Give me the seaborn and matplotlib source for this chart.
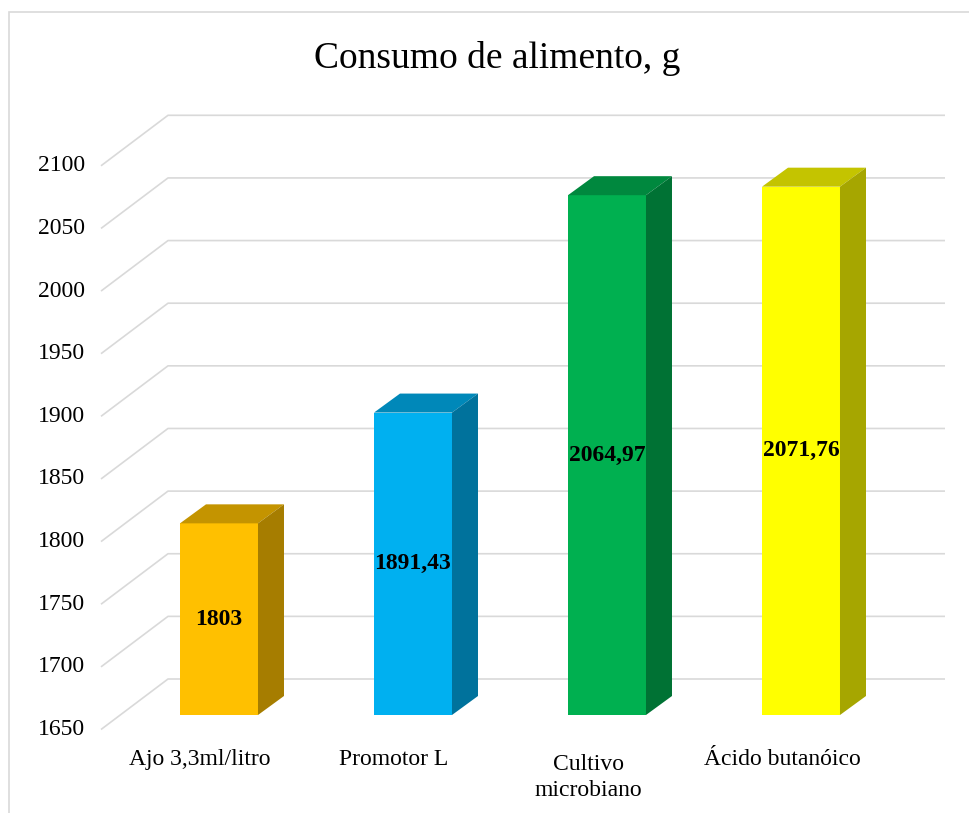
import numpy as np
import pandas as pd
import seaborn as sns
import matplotlib
matplotlib.use("Agg")
import matplotlib.pyplot as plt
from matplotlib.transforms import IdentityTransform
from matplotlib.patches import Polygon, Rectangle
from matplotlib.colors import to_rgb

# ---- data ----
categories = ["Ajo 3,3ml/litro", "Promotor L", "Cultivo\nmicrobiano", "Ácido butanóico"]
values = [1803, 1891.43, 2064.97, 2071.76]
value_labels = ["1803", "1891,43", "2064,97", "2071,76"]
colors = ["#FFC000", "#00B0F0", "#00B050", "#FFFF00"]
yticks = [1650, 1700, 1750, 1800, 1850, 1900, 1950, 2000, 2050, 2100]
title = "Consumo de alimento, g"

sns.set_style("white")
plt.rcParams['font.family'] = ['Liberation Serif', 'DejaVu Serif']

W, H = 969, 813
fig = plt.figure(figsize=(W / 100, H / 100), dpi=100)
ax_l, ax_r, ax_b, ax_t = 122, 898, 715, 151.3   # pixel frame of bar plane (y from top)
ax = fig.add_axes([ax_l / W, (H - ax_b) / H, (ax_r - ax_l) / W, (ax_b - ax_t) / H])

df = pd.DataFrame({"cat": categories, "val": values})
sns.barplot(data=df, x="cat", y="val", hue="cat", palette=colors, width=0.402,
            saturation=1, legend=False, ax=ax, zorder=3, linewidth=0)
ax.set_xlim(-0.5, 3.5)
ax.set_ylim(yticks[0], yticks[-1])
ax.axis("off")

grid_c = "#d9d9d9"
ident = IdentityTransform()
# perspective offsets (pixels, display coords with y up)
front_dx, front_dy = -21, -14.5
back_dx, back_dy = 46, 36
x_axes_left = ax.transAxes.transform((0, 0))[0]
x_axes_right = ax.transAxes.transform((1, 0))[0]

for v in yticks:
    yb = ax.transData.transform((0, v))[1]
    xs = [x_axes_left + front_dx, x_axes_left + back_dx, x_axes_right + 47]
    ys = [yb + front_dy, yb + back_dy, yb + back_dy]
    ax.plot(xs, ys, transform=ident, color=grid_c, lw=1.2, clip_on=False, zorder=1,
            solid_capstyle="butt")
    ax.text(x_axes_left - 37, yb + front_dy, f"{v}", transform=ident,
            ha="right", va="center", fontsize=17, color="black")

# 3D faces of bars
dx, dy = 26, 19
bottom = ax.get_ylim()[0]
patches = sorted(ax.patches, key=lambda p: p.get_x())
for p, c, v, lab in zip(patches, colors, values, value_labels):
    x0, w = p.get_x(), p.get_width()
    top = p.get_y() + p.get_height()
    xl, yt = ax.transData.transform((x0, top))
    xr, yb = ax.transData.transform((x0 + w, bottom))
    rgb = np.array(to_rgb(c))
    top_face = Polygon([(xl, yt), (xr, yt), (xr + dx, yt + dy), (xl + dx, yt + dy)],
                       closed=True, transform=ident, facecolor=rgb * 0.77,
                       edgecolor="none", clip_on=False, zorder=3)
    side_face = Polygon([(xr, yb), (xr + dx, yb + dy), (xr + dx, yt + dy), (xr, yt)],
                        closed=True, transform=ident, facecolor=rgb * 0.65,
                        edgecolor="none", clip_on=False, zorder=3)
    ax.add_patch(top_face)
    ax.add_patch(side_face)
    ax.text(x0 + w / 2, (bottom + v) / 2, lab, ha="center", va="center",
            fontsize=17, fontweight="bold", color="black", zorder=5)

# category labels
y_base = ax.transAxes.transform((0, 0))[1]
for i, cat in enumerate(categories):
    xc = ax.transData.transform((i, 0))[0] - 19
    n_lines = cat.count("\n") + 1
    ax.text(xc, y_base - 34 - 5 * (n_lines - 1), cat, transform=ident, ha="center", va="top",
            fontsize=17, linespacing=1.3, color="black", clip_on=False)

fig.text(497 / W, 1 - 59 / H, title, ha="center", va="center", fontsize=27, color="black")

fig.add_artist(Rectangle((9 / W, -0.05), 1.2, (1 - 12 / H) + 0.05, transform=fig.transFigure,
                         fill=False, edgecolor=grid_c, lw=1.2))

fig.savefig("out.png", dpi=100)
